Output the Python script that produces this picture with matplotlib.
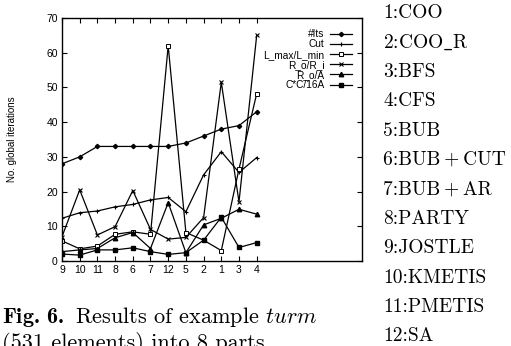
import matplotlib
matplotlib.use("Agg")
import matplotlib.pyplot as plt

plt.rcParams['mathtext.fontset'] = 'custom'
plt.rcParams['mathtext.rm'] = 'cmr10'
plt.rcParams['mathtext.it'] = 'cmmi10'
plt.rcParams['mathtext.bf'] = 'cmb10'
plt.rcParams['mathtext.fallback'] = 'cm'

categories = ["9", "10", "11", "8", "6", "7", "12", "5", "2", "1", "3", "4"]
its = [28, 30, 33, 33, 33, 33, 33, 34, 36, 38, 39, 43]
cut = [12.3, 13.9, 14.4, 15.6, 16.3, 17.6, 18.3, 14.2, 24.8, 31.5, 25.5, 29.8]
lmax = [5.8, 3.5, 4.3, 7.7, 8.4, 7.7, 62, 8.2, 6.0, 3.0, 26.5, 48.2]
rori = [7.0, 20.5, 7.5, 9.9, 20.3, 9.1, 6.3, 6.8, 12.5, 51.5, 17.0, 65.0]
roa = [2.7, 3.2, 3.6, 6.7, 8.2, 3.6, 16.8, 2.4, 10.4, 12.3, 14.9, 13.5]
cc16a = [2.0, 1.7, 3.2, 3.2, 3.8, 2.7, 1.9, 2.4, 6.0, 12.6, 3.9, 5.3]
series_names = ["#Its", "Cut", "L_max/L_min", "R_o/R_i", "R_o/A", "C*C/16A"]
method_labels = ["1:COO", "2:COO$\\_$R", "3:BFS", "4:CFS", "5:BUB", "6:BUB\u2009+\u2009CUT",
                 "7:BUB\u2009+\u2009AR", "8:PARTY", "9:JOSTLE", "10:KMETIS", "11:PMETIS", "12:SA"]

W, H = 511, 346
fig = plt.figure(figsize=(W / 100, H / 100), dpi=100)
ax = fig.add_axes([62 / W, 1 - 261 / H, 300 / W, 243 / H])

xs = list(range(len(categories)))
styles = [
    dict(marker='D', ms=2.2, mfc='black'),
    dict(marker='+', ms=3.5, mew=0.8),
    dict(marker='s', ms=3.2, mfc='white', mew=0.7),
    dict(marker='x', ms=3.0, mew=0.8),
    dict(marker='^', ms=3.2, mfc='black'),
    dict(marker='s', ms=2.6, mfc='black'),
]
data = [its, cut, lmax, rori, roa, cc16a]
for vals, name, st in zip(data, series_names, styles):
    ax.plot(xs, vals, color='black', lw=0.9, mec='black', label=name, **st)

ax.set_xlim(0, 16.95)
ax.set_ylim(0, 70)
ax.set_xticks(xs)
ax.set_xticklabels(categories)
ax.set_yticks(range(0, 71, 10))
ax.tick_params(direction='in', length=3.5, width=0.8, top=True, right=True,
               labelsize=7.5, pad=3)
for lab in ax.get_xticklabels() + ax.get_yticklabels():
    lab.set_family('Liberation Sans')
for s in ax.spines.values():
    s.set_linewidth(1.0)
ax.set_ylabel("No. global iterations", fontsize=7, family='Liberation Sans', labelpad=21)

leg = ax.legend(loc='upper right', bbox_to_anchor=(0.99, 0.983), frameon=False,
                markerfirst=False, handlelength=2.2, handletextpad=0.5,
                labelspacing=0.02, borderpad=0.2,
                prop={'family': 'Liberation Sans', 'size': 7.3})

for i, lab in enumerate(method_labels):
    y = 13 + i * 29.4
    fig.text(383 / W, 1 - y / H, lab, family=['cmr10', 'DejaVu Sans'], fontsize=14,
             va='center', ha='left', math_fontfamily='cm')

fig.text(2 / W, 1 - 323 / H, r"$\mathbf{Fig.\,6.}$ Results of example $\mathit{turm}$",
         family='cmr10', fontsize=16, va='baseline', ha='left')
fig.text(2 / W, 1 - 349 / H, "(531 elements) into 8 parts.",
         family='cmr10', fontsize=16, va='baseline', ha='left')

fig.savefig("out.png", dpi=100)
